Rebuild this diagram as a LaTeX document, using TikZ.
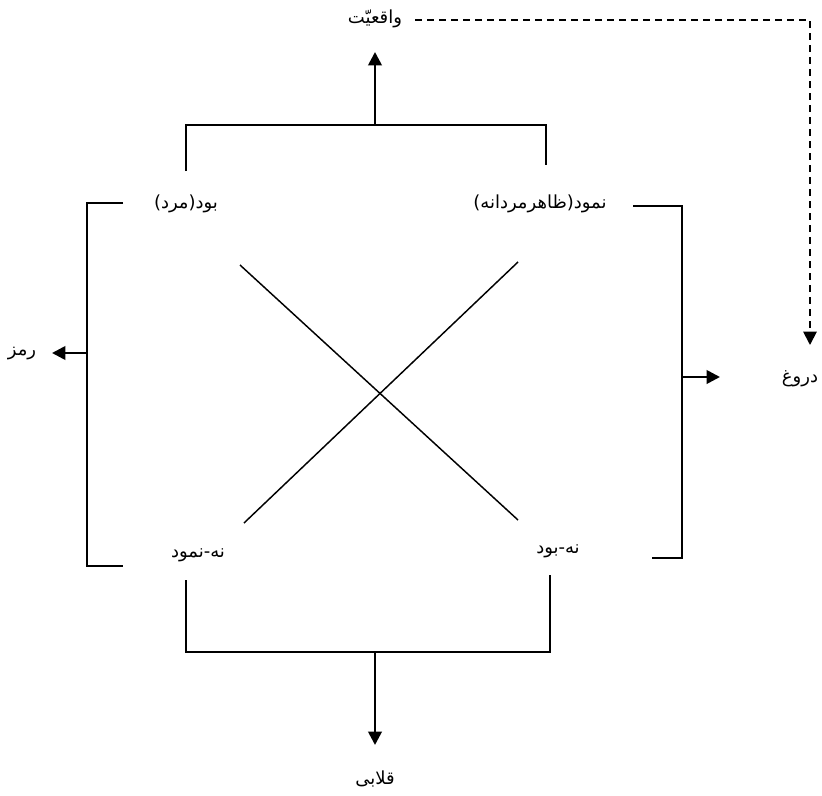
\documentclass[tikz,border=0pt]{standalone}
\usepackage{fontspec}
\TeXXeTstate=1
\newfontfamily\arabicfont[Script=Arabic]{DejaVu Sans}
\usetikzlibrary{arrows.meta}
\tikzset{
  lbl/.style={font=\arabicfont\fontsize{13.5}{15}\selectfont, inner sep=1pt},
  brk/.style={line width=1.5pt},
  arr/.style={line width=2pt, -{Triangle[length=10pt,width=10pt]}},
  crs/.style={line width=1.1pt},
  dsh/.style={line width=1.4pt, dash pattern=on 5.5pt off 3.5pt, -{Triangle[length=10pt,width=10pt]}}
}
\begin{document}
\begin{tikzpicture}[x=0.75pt,y=-0.75pt]
\useasboundingbox (0,0) rectangle (822,796);
% labels
\node[lbl] (real) at (375,19) {\beginR واقعیّت\endR};
\node[lbl] (bud) at (186,204) {\beginR بود(مرد)\endR};
\node[lbl] (namud) at (540,204) {\beginR نمود(ظاهرمردانه)\endR};
\node[lbl] (nanamud) at (198,555) {\beginR نه-نمود\endR};
\node[lbl] (nabud) at (558,551) {\beginR نه-بود\endR};
\node[lbl] (ramz) at (22,354) {\beginR رمز\endR};
\node[lbl] (dorugh) at (800,379) {\beginR دروغ\endR};
\node[lbl] (ghalabi) at (375,779) {\beginR قلابی\endR};
% coordinates
\coordinate (tl) at (186,171);
\coordinate (tr) at (546,165);
\coordinate (tm) at (375,125);
\coordinate (ltop) at (123,203);
\coordinate (lbot) at (123,566);
\coordinate (lm) at (87,353);
\coordinate (rtop) at (633,206);
\coordinate (rbot) at (652,558);
\coordinate (rm) at (682,377);
\coordinate (bl) at (186,580);
\coordinate (br) at (550,575);
\coordinate (bm) at (375,652);
\coordinate (dstart) at (415,20);
\coordinate (dcorner) at (810,20);
\coordinate (dend) at (810,345);
\coordinate (uparr) at (375,52);
\coordinate (leftarr) at (52,353);
\coordinate (rightarr) at (720,377);
\coordinate (downarr) at (375,745);
% top bracket
\draw[brk] (tl) |- (tm) -| (tr);
\draw[arr] (tm) -- (uparr);
% left bracket
\draw[brk] (ltop) -- (87,203) -- (87,566) -- (lbot);
\draw[arr] (lm) -- (leftarr);
% right bracket
\draw[brk] (rtop) -- (682,206) -- (682,558) -- (rbot);
\draw[arr] (rm) -- (rightarr);
% bottom bracket
\draw[brk] (bl) |- (bm) -| (br);
\draw[arr] (bm) -- (downarr);
% cross
\draw[crs] (240,265) -- (518,520);
\draw[crs] (518,262) -- (244,523);
% dashed
\draw[dsh] (dstart) -- (dcorner) -- (dend);
\end{tikzpicture}
\end{document}
